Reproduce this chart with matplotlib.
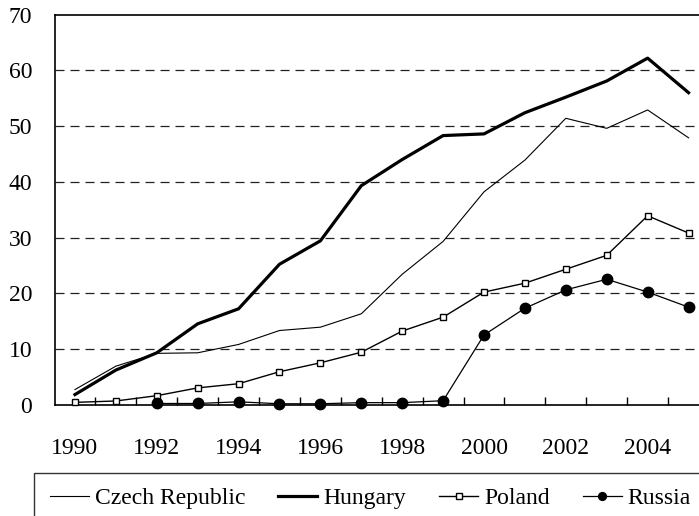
import matplotlib
matplotlib.use('Agg')

import matplotlib.pyplot as plt
from matplotlib.patches import Rectangle
from matplotlib import font_manager
import numpy as np

# Values
years = list(range(1990, 2006))
czech = [2.7, 6.9, 9.2, 9.3, 10.8, 13.3, 13.9, 16.3, 23.4, 29.3,
         38.2, 43.9, 51.4, 49.6, 52.9, 47.9]
hungary = [1.8, 6.2, 9.3, 14.5, 17.2, 25.2, 29.4, 39.3, 44.0, 48.3,
           48.6, 52.4, 55.2, 58.1, 62.2, 56.0]
poland = [0.4, 0.65, 1.6, 3.0, 3.75, 5.9, 7.5, 9.4, 13.2, 15.7,
          20.2, 21.8, 24.3, 26.8, 33.9, 30.8]
russia = [np.nan, np.nan, 0.2, 0.2, 0.5, 0.15, 0.15, 0.35, 0.35, 0.7,
          12.5, 17.3, 20.6, 22.5, 20.2, 17.5]
xtick_labels = [str(y) for y in range(1990, 2005, 2)]
yticks = list(range(0, 80, 10))

# pick a serif face that is actually installed
installed = {f.name for f in font_manager.fontManager.ttflist}
serif = [f for f in ['Liberation Serif', 'DejaVu Serif'] if f in installed]
plt.rcParams['font.family'] = 'serif'
plt.rcParams['font.serif'] = serif + ['DejaVu Serif']
plt.rcParams['lines.scale_dashes'] = False

W, H = 699, 516
fig = plt.figure(figsize=(W / 100, H / 100), dpi=100)

# axes in pixel terms: x 54.5..709, y 14.7..404.6 (from top)
ax = fig.add_axes([54.5 / W, (H - 404.6) / H, 654.5 / W, 389.9 / H])

ax.plot(years, czech, color='black', lw=0.8, label='Czech Republic', zorder=3)
ax.plot(years, hungary, color='black', lw=2.3, label='Hungary', zorder=3)
ax.plot(years, poland, color='black', lw=1.0, marker='s', markersize=5,
        markerfacecolor='white', markeredgecolor='black', markeredgewidth=1.0,
        label='Poland', zorder=4, clip_on=False)
ax.plot(years, russia, color='black', lw=0.9, marker='o', markersize=7.5,
        markerfacecolor='black', markeredgecolor='black',
        label='Russia', zorder=5, clip_on=False)

ax.set_xlim(1989.5, 2005.5)
ax.set_ylim(0, 70)

# horizontal dashed gridlines
for v in yticks[1:-1]:
    ax.axhline(v, color='#222222', lw=0.9, dashes=(6.5, 4.3), zorder=1)

ax.set_yticks(yticks)
ax.set_yticklabels([str(v) for v in yticks])
ax.tick_params(axis='y', length=0, pad=16, labelsize=17)

ax.set_xticks(list(range(1990, 2005, 2)))
ax.set_xticklabels(xtick_labels)
ax.tick_params(axis='x', which='major', length=0, pad=24, labelsize=17)
ax.set_xticks([y + 0.5 for y in range(1990, 2005)], minor=True)
ax.tick_params(axis='x', which='minor', direction='in', length=5.5,
               width=1.0, color='black')

for s in ['left', 'bottom', 'top']:
    ax.spines[s].set_color('black')
    ax.spines[s].set_linewidth(1.2)
ax.spines['right'].set_visible(False)

# legend frame, cut off by the figure edge like the original
fig.patches.append(Rectangle((34 / W, -0.2), 1.2, 0.2 + (H - 473) / H,
                             transform=fig.transFigure, fill=False,
                             edgecolor='#333333', lw=1.0))

fig.legend(loc='center left', bbox_to_anchor=(50 / W, (H - 498) / H),
           ncol=4, frameon=False, fontsize=17, handlelength=1.65,
           handletextpad=0.25, columnspacing=1.4, borderpad=0,
           borderaxespad=0, numpoints=1, markerscale=0.75)

fig.savefig('out.png', dpi=100)
